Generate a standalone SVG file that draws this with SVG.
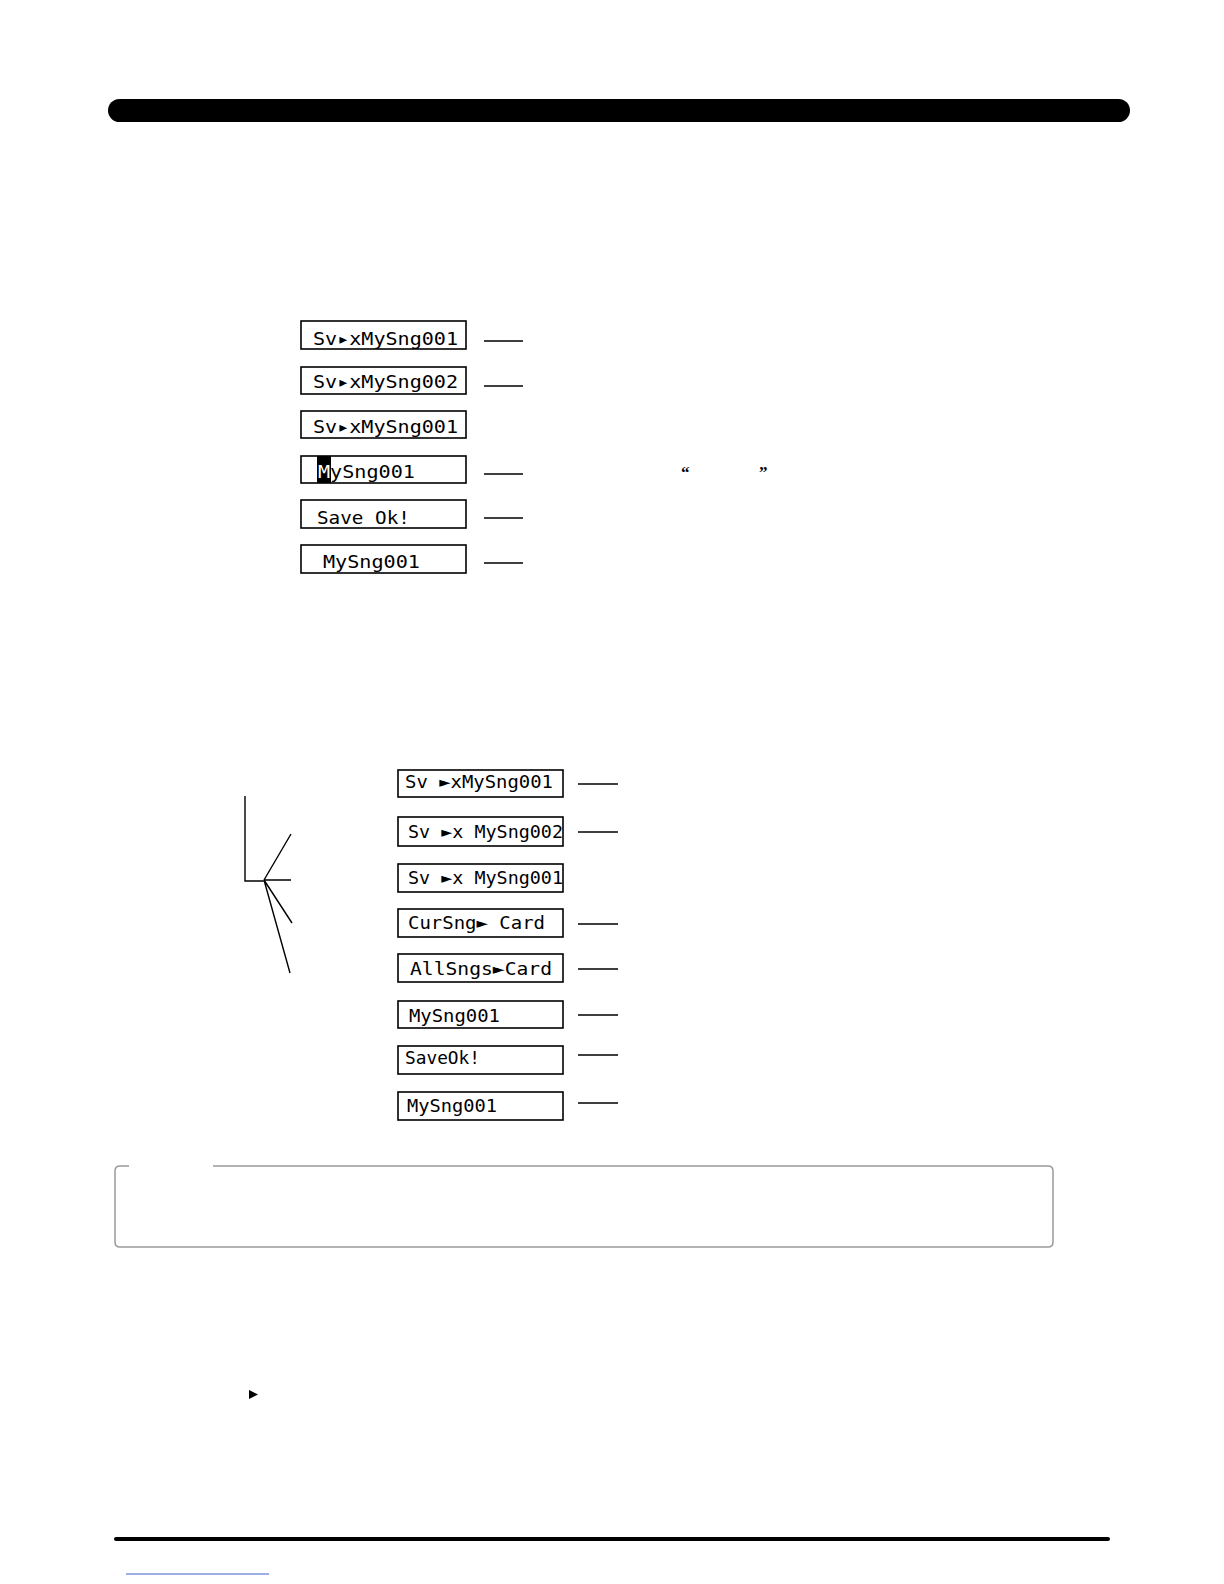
<svg xmlns="http://www.w3.org/2000/svg" width="1224" height="1584" viewBox="0 0 1224 1584">
<style>
.lcd{fill:#fff;stroke:#000;stroke-width:1.6}
.t{font-family:"DejaVu Sans Mono","Liberation Mono",monospace;font-size:18px;fill:#000}
.ld{stroke:#000;stroke-width:1.4;fill:none}
.q{font-family:"Liberation Serif",serif;font-size:17px;font-weight:bold;fill:#000}
</style>
<rect width="1224" height="1584" fill="#fff"/>
<rect x="108" y="99" width="1022" height="23" rx="11.5" fill="#000"/>
<g id="s1-box1"><rect class="lcd" x="301" y="321" width="165" height="28"/><text class="t" x="313" y="345" textLength="145" lengthAdjust="spacingAndGlyphs">Sv▸xMySng001</text></g>
<g id="s1-box2"><rect class="lcd" x="301" y="367" width="165" height="27"/><text class="t" x="313" y="388" textLength="145" lengthAdjust="spacingAndGlyphs">Sv▸xMySng002</text></g>
<g id="s1-box3"><rect class="lcd" x="301" y="411" width="165" height="27"/><text class="t" x="313" y="433" textLength="145" lengthAdjust="spacingAndGlyphs">Sv▸xMySng001</text></g>
<g id="s1-box4"><rect class="lcd" x="301" y="456" width="165" height="27"/><rect x="317" y="456" width="14" height="27" fill="#000"/><text class="t" x="318" y="478" textLength="97" lengthAdjust="spacingAndGlyphs"><tspan fill="#fff">M</tspan>ySng001</text></g>
<g id="s1-box5"><rect class="lcd" x="301" y="500" width="165" height="28"/><text class="t" x="317" y="524" textLength="93" lengthAdjust="spacingAndGlyphs">Save Ok!</text></g>
<g id="s1-box6"><rect class="lcd" x="301" y="545" width="165" height="28"/><text class="t" x="323" y="568" textLength="97" lengthAdjust="spacingAndGlyphs">MySng001</text></g>
<text class="q" x="681" y="478">“</text><text class="q" x="759" y="478">”</text>
<g id="s2-box1"><rect class="lcd" x="398" y="770" width="165" height="27"/><text class="t" x="405" y="788" textLength="148" lengthAdjust="spacingAndGlyphs">Sv ►xMySng001</text></g>
<g id="s2-box2"><rect class="lcd" x="398" y="817" width="165" height="29"/><text class="t" x="408" y="838" textLength="155" lengthAdjust="spacingAndGlyphs">Sv ►x MySng002</text></g>
<g id="s2-box3"><rect class="lcd" x="398" y="864" width="165" height="28"/><text class="t" x="408" y="884" textLength="155" lengthAdjust="spacingAndGlyphs">Sv ►x MySng001</text></g>
<g id="s2-box4"><rect class="lcd" x="398" y="909" width="165" height="28"/><text class="t" x="408" y="929" textLength="137" lengthAdjust="spacingAndGlyphs">CurSng► Card</text></g>
<g id="s2-box5"><rect class="lcd" x="398" y="954" width="165" height="28"/><text class="t" x="410" y="975" textLength="142" lengthAdjust="spacingAndGlyphs">AllSngs►Card</text></g>
<g id="s2-box6"><rect class="lcd" x="398" y="1001" width="165" height="27"/><text class="t" x="409" y="1022" textLength="91" lengthAdjust="spacingAndGlyphs">MySng001</text></g>
<g id="s2-box7"><rect class="lcd" x="398" y="1046" width="165" height="28"/><text class="t" x="405" y="1064" textLength="75" lengthAdjust="spacingAndGlyphs">SaveOk!</text></g>
<g id="s2-box8"><rect class="lcd" x="398" y="1092" width="165" height="28"/><text class="t" x="407" y="1112" textLength="90" lengthAdjust="spacingAndGlyphs">MySng001</text></g>
<g id="connectors">
<path class="ld" d="M484 341H523M484 386H523M484 474H523M484 518H523M484 563H523"/>
<path class="ld" d="M578 784H618M578 832H618M578 924H618M578 969H618M578 1015H618M578 1055H618M578 1103H618"/>
<path class="ld" d="M245 796V881H264M264 880L291 834M264 880H291M264 880L292 923M264 880L290 973"/>
</g>
<path d="M213 1166H1048Q1053 1166 1053 1171V1242Q1053 1247 1048 1247H120Q115 1247 115 1242V1171Q115 1166 120 1166H129" fill="none" stroke="#9a9a9a" stroke-width="1.5"/>
<path d="M249 1390L258 1394.5L249 1399Z" fill="#000"/>
<line x1="116" y1="1539" x2="1108" y2="1539" stroke="#000" stroke-width="4" stroke-linecap="round"/>
<line x1="126" y1="1574" x2="269" y2="1574" stroke="#3a5fcd" stroke-width="1"/>
</svg>
